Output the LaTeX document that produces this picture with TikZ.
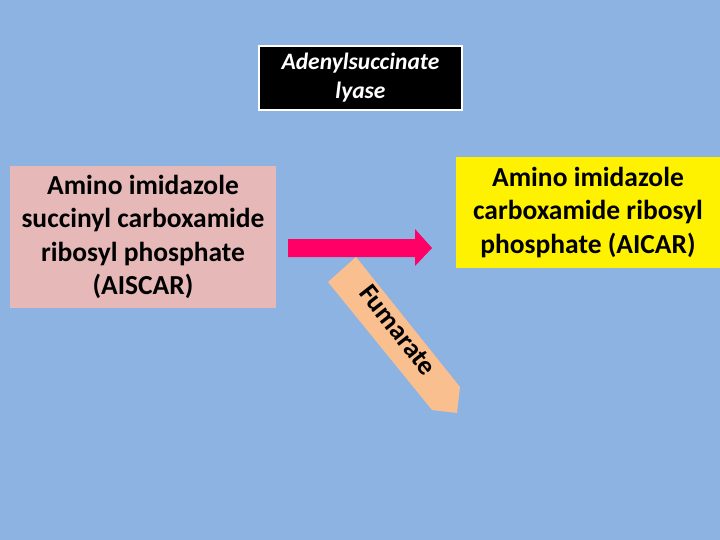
\documentclass[tikz,border=0pt]{standalone}
\usepackage{fontspec}
\setmainfont{Carlito}
\begin{document}
\begin{tikzpicture}[x=1pt,y=-1pt,
 lbl/.style={align=center,font=\bfseries\fontsize{27.5}{33.5}\selectfont}]
\definecolor{bg}{RGB}{141,179,226}
\definecolor{pinkbox}{RGB}{230,185,184}
\definecolor{arr}{RGB}{255,0,102}
\definecolor{fum}{RGB}{250,191,143}
\fill[bg] (0,0) rectangle (720,540);
\node[draw=white,line width=2.5pt,fill=black,minimum width=203,minimum height=64,text=white,align=center,font=\bfseries\itshape\fontsize{23.5}{29}\selectfont] (enz) at (360.5,78) {Adenylsuccinate\\lyase};
\node[fill=pinkbox,minimum width=266,minimum height=142,lbl] (sub) at (143,237) {Amino imidazole\\succinyl carboxamide\\ribosyl phosphate\\(AISCAR)};
\node[fill=yellow,minimum width=264,minimum height=111,lbl] (prod) at (588,212.5) {Amino imidazole\\carboxamide ribosyl\\phosphate (AICAR)};
\fill[arr] (288,239) -- (415,239) -- (415,229) -- (432,248) -- (415,266) -- (415,257) -- (288,257) -- cycle;
\fill[fum] (356,257) -- (460,387) -- (457,413) -- (432,410) -- (328,282) -- cycle;
\node[rotate=-52,font=\bfseries\fontsize{27}{30}\selectfont] (f) at (398,330) {Fumarate};
\end{tikzpicture}
\end{document}
